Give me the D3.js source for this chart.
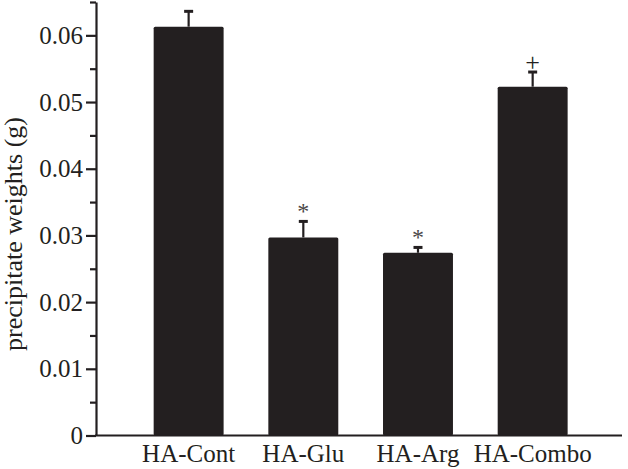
<!DOCTYPE html>
<html>
<head>
<meta charset="utf-8">
<script src="https://d3js.org/d3.v7.min.js"></script>
<style>
    body { margin: 0; padding: 0; background: #ffffff; }
    text { font-family: "Liberation Serif", "Times New Roman", serif; fill: #231f20; }
</style>
</head>
<body>
<div id="chart"></div>
<script>
// data
var categories = ["HA-Cont", "HA-Glu", "HA-Arg", "HA-Combo"];
var means = [0.0613, 0.0297, 0.0274, 0.0523];
var errors = [0.0023, 0.0024, 0.0008, 0.0022];
var marks = ["", "*", "*", "+"];
var majorTicks = [0, 0.01, 0.02, 0.03, 0.04, 0.05, 0.06];
var minorTicks = [0.005, 0.015, 0.025, 0.035, 0.045, 0.055, 0.065];

var width = 628, height = 469;
var ink = "#231f20";
var serif = "'Liberation Serif', 'Times New Roman', serif";

var svg = d3.select("#chart").append("svg")
    .attr("width", width)
    .attr("height", height);

var y = d3.scaleLinear()
    .domain([0, 0.065])
    .range([435.5, 2]);

var x = d3.scaleBand()
    .domain(categories)
    .range([131.3, 590])
    .paddingInner(0.39)
    .paddingOuter(0.195);

var data = categories.map(function(c, i) {
    return { name: c, mean: means[i], err: errors[i], mark: marks[i] };
});

// bars
svg.selectAll(".bar")
    .data(data)
    .enter()
    .append("rect")
    .attr("class", "bar")
    .attr("x", function(d) { return x(d.name); })
    .attr("y", function(d) { return y(d.mean); })
    .attr("width", x.bandwidth())
    .attr("height", function(d) { return y(0) - y(d.mean); })
    .attr("rx", 1.5)
    .attr("fill", ink);

// error bars (upper only)
var cx = function(d) { return x(d.name) + x.bandwidth() / 2; };

svg.selectAll(".err")
    .data(data)
    .enter()
    .append("line")
    .attr("x1", cx).attr("x2", cx)
    .attr("y1", function(d) { return y(d.mean); })
    .attr("y2", function(d) { return y(d.mean + d.err); })
    .attr("stroke", ink)
    .attr("stroke-width", 2.2);

svg.selectAll(".cap")
    .data(data)
    .enter()
    .append("line")
    .attr("x1", function(d) { return cx(d) - 4.5; })
    .attr("x2", function(d) { return cx(d) + 4.5; })
    .attr("y1", function(d) { return y(d.mean + d.err); })
    .attr("y2", function(d) { return y(d.mean + d.err); })
    .attr("stroke", ink)
    .attr("stroke-width", 3);

// significance marks
svg.selectAll(".mark")
    .data(data.filter(function(d) { return d.mark !== ""; }))
    .enter()
    .append("text")
    .attr("x", cx)
    .attr("y", function(d) {
        return y(d.mean + d.err) + (d.mark === "+" ? -1 : -2);
    })
    .attr("text-anchor", "middle")
    .style("fill", function(d) { return d.mark === "+" ? ink : "#4a4748"; })
    .style("font-size", function(d) { return d.mark === "+" ? "26px" : "24px"; })
    .text(function(d) { return d.mark; });

// y axis
var fmt = function(d) { return d === 0 ? "0" : d3.format(".2f")(d); };

var yAxis = svg.append("g")
    .attr("transform", "translate(96,0)")
    .call(d3.axisLeft(y).tickValues(majorTicks).tickFormat(fmt)
        .tickSize(10).tickSizeOuter(0).tickPadding(3));

yAxis.attr("font-family", serif);
yAxis.select(".domain").attr("stroke", ink).attr("stroke-width", 2.2);
yAxis.selectAll(".tick line").attr("stroke", ink).attr("stroke-width", 2.2);
yAxis.selectAll(".tick text")
    .style("font-size", "25px")
    .style("font-family", serif)
    .attr("fill", ink);

var yMinor = svg.append("g")
    .attr("transform", "translate(96,0)")
    .call(d3.axisLeft(y).tickValues(minorTicks).tickFormat("")
        .tickSize(6).tickSizeOuter(0));
yMinor.select(".domain").remove();
yMinor.selectAll(".tick line").attr("stroke", ink).attr("stroke-width", 2.2);

// x axis
svg.append("line")
    .attr("x1", 95)
    .attr("x2", 622)
    .attr("y1", y(0))
    .attr("y2", y(0))
    .attr("stroke", ink)
    .attr("stroke-width", 2.2);

var xAxis = svg.append("g")
    .attr("transform", "translate(0," + y(0) + ")")
    .call(d3.axisBottom(x).tickSize(0).tickPadding(9));
xAxis.attr("font-family", serif);
xAxis.select(".domain").remove();
xAxis.selectAll(".tick text")
    .style("font-size", "25px")
    .style("font-family", serif)
    .attr("fill", ink)
    .attr("dy", "0.71em");

// y label
svg.append("text")
    .attr("transform", "translate(22,234) rotate(-90)")
    .attr("text-anchor", "middle")
    .style("font-size", "26px")
    .text("precipitate weights (g)");
</script>
</body>
</html>
